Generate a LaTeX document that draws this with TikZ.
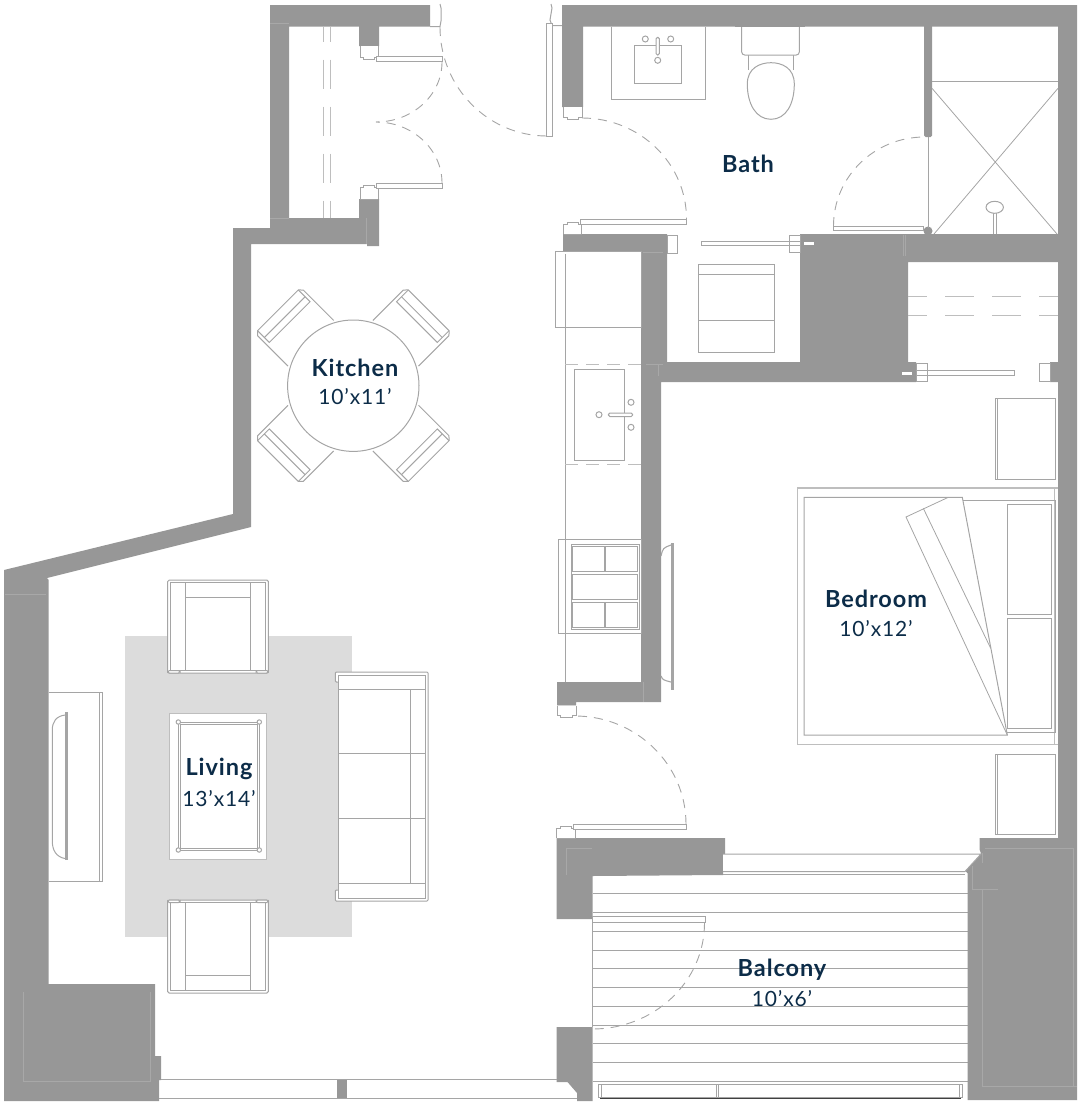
\documentclass[tikz,border=0pt]{standalone}
\usepackage{fontspec}
\setmainfont[LetterSpace=4]{Lato}
\definecolor{wallgray}{RGB}{151, 151, 151}
\definecolor{jointgray}{RGB}{168, 168, 168}
\definecolor{linegray}{RGB}{165, 165, 165}
\definecolor{softgray}{RGB}{190, 190, 190}
\definecolor{ruggray}{RGB}{220, 220, 220}
\definecolor{labelnavy}{RGB}{12, 44, 72}
\tikzset{
  wall/.style={fill=wallgray, draw=none},
  joint/.style={draw=jointgray, line width=0.5pt},
  fixture/.style={draw=linegray, line width=1pt},
  soft/.style={draw=softgray, line width=1.2pt},
  leaf/.style={draw=linegray, fill=white, line width=1pt},
  swing/.style={draw=linegray, line width=0.9pt, dash pattern=on 9pt off 7pt},
  hatch/.style={draw=softgray, line width=1pt, dash pattern=on 29pt off 18pt},
  roomname/.style={font=\fontsize{23.5}{26}\selectfont\bfseries, text=labelnavy, inner sep=0pt},
  roomsize/.style={font=\fontsize{21}{24}\selectfont, text=labelnavy, inner sep=0pt},
}
\begin{document}
\begin{tikzpicture}[x=1pt, y=-1pt]
  \useasboundingbox (0,0) rectangle (1077,1103);

  % Rug
  \fill[ruggray] (125,635.5) rectangle (352,937);

  % Balcony boards
  \foreach \yb in {893.7,912.4,931.2,950,968.7,987.4,1006.2,1025,1043.7,1062.4,1081.2}
    \draw[fixture] (592.5,\yb) -- (967.5,\yb);
  \draw[fixture] (592.5,919) -- (592.5,1027);

  % Walls
  \fill[wall] (270,5) -- (430,5) -- (430,26.5) -- (379,26.5) -- (379,46) -- (359,46) -- (359,26.5) -- (289,26.5) -- (289,218) -- (359,218) -- (359,199) -- (379,199) -- (379,246) -- (367,246) -- (367,244) -- (251,244) -- (251,527) -- (47,578) -- (48.7,580) -- (48.7,984) -- (155,984) -- (155,1056) -- (161,1056) -- (161,1080) -- (159,1080) -- (159,1101) -- (4,1101) -- (4,570) -- (233,514) -- (233,228) -- (270,228) -- cycle;
  \fill[wall] (562,5) -- (1077,5) -- (1077,1100) -- (967.5,1100) -- (967.5,873) -- (965,870.7) -- (981,853.3) -- (979.7,850) -- (979.7,838) -- (1058,838) -- (1058,382) -- (1050,382) -- (1050,362) -- (1058,362) -- (1058,26.5) -- (583,26.5) -- (583,107) -- (562,107) -- cycle;
  \fill[wall, rounded corners=1.5pt] (924,20) rectangle (932,137);
  \fill[wall] (563,234) -- (667,234) -- (667,362) -- (800,362) -- (800,234) -- (1058,234) -- (1058,262) -- (908,262) -- (908,362) -- (916,362) -- (916,382) -- (661,382) -- (661,702) -- (576,702) -- (576,705.5) -- (557,705.5) -- (557,682) -- (641,682) -- (641,254) -- (563,254) -- cycle;
  \fill[wall] (928,231) circle (4.5);
  \fill[wall] (556.5,838) -- (725,838) -- (725,855) -- (723,855) -- (723,875) -- (592.5,876) -- (592.5,919) -- (556.5,919) -- cycle;
  \fill[wall] (556.5,1027) -- (592.5,1027) -- (592.5,1101) -- (577,1101) -- (577,1093) -- (567.5,1082) -- (556.5,1082) -- cycle;

  % Joints in the walls
  \draw[joint] (23,992) -- (23,1081) -- (150,1081) -- (150,992);
  \draw[joint] (5,594.7) -- (46,594.7);
  \draw[joint] (982,889) -- (982,1086) -- (1077,1086);
  \draw[joint] (982,853) -- (982,863);
  \draw[joint] (985,848) -- (1073,848) -- (1073,1086);
  \draw[joint] (972.3,866) -- (972.3,889) -- (998,889);
  \draw[joint] (592,848.3) -- (566.7,848.3) -- (566.7,875);
  \draw[joint] (270,23) -- (289,23);
  \draw[joint] (270,218) -- (289,218);
  \draw[joint] (366,218) -- (366,244);
  \draw[joint] (646,364.5) -- (663,364.5) (658,364.5) -- (658,376);
  \draw[joint] (643,252.5) -- (663,252.5);
  \draw[joint] (643,682) -- (643,702);
  \draw[joint] (903,235) -- (903,256) (905.5,235) -- (905.5,256);

  % Windows
  \draw[leaf] (723,854) -- (981,854) -- (965,871.5) -- (723,871.5);
  \draw[fixture] (723,874) -- (965,874);
  \draw[leaf] (598,1084.3) rectangle (962,1097.3);
  \draw[fixture] (601,1084.3) -- (601,1097.3) (959,1084.3) -- (959,1097.3);
  \draw[leaf] (716.4,1084.3) rectangle (718.8,1097.3);
  \draw[black!75, line width=1pt] (600,1098.5) -- (960.5,1098.5);
  \draw[fixture] (161,1079.5) -- (556.5,1079.5);
  \draw[fixture] (159,1098.5) -- (577,1098.5);
  \fill[wall] (337,1079.5) rectangle (347,1098);

  % Jambs
  \draw[fixture] (430,26.5) -- (440,26.5) -- (441,21) -- (441,8) -- (440,4);
  \draw[fixture] (551,4) -- (552,8) -- (550,20) -- (552,25.5) -- (562,25.5);
  \foreach \xj/\yj/\wj/\hj in {360/46/18/12, 360/199/18/-12, 563.5/107/18.5/11, 563.5/234/18.2/-10.5, 557/705.5/19/11, 556.5/838/19/-10.3} {
    \begin{scope}[shift={(\xj,\yj)}, xscale=\wj, yscale=\hj]
      \draw[leaf] (0,0) -- (0,0.95) -- (0.2,0.95) -- (0.2,1.12) -- (0.8,1.12) -- (0.8,0.95) -- (1,0.95) -- (1,0);
    \end{scope}
  }
  \foreach \xj/\yj/\xk/\yk in {667.3/235.7/677.3/253.3, 1039/363/1050/381}
    \draw[leaf] (\xj,\yj) rectangle (\xk,\yk);

  % Door leaves and their swings
  \draw[leaf] (376,56) rectangle (442.5,61.7);
  \draw[leaf] (376,183.3) rectangle (442.5,188.5);
  \draw[swing] (442,62) arc[start angle=0, end angle=-90, x radius=66, y radius=-60];
  \draw[swing] (442,183) arc[start angle=0, end angle=90, x radius=66, y radius=-61];
  \draw[leaf] (546.7,23.3) rectangle (552.7,136.7);
  \draw[swing] (440,27) arc[start angle=180, end angle=270, x radius=107, y radius=-109];
  \draw[leaf] (580,219.3) rectangle (686.7,224.3);
  \draw[swing] (582,118) arc[start angle=90, end angle=0, x radius=104.5, y radius=-101];
  \draw[leaf] (833.3,226) rectangle (923.3,230.7);
  \draw[swing] (833.5,226) arc[start angle=180, end angle=90, x radius=91, y radius=-89];
  \draw[fixture] (928.7,137) -- (928.7,228);
  \draw[leaf] (573.2,824) rectangle (686.6,829);
  \draw[swing] (686,824) arc[start angle=0, end angle=90, x radius=111, y radius=-108];
  \draw[leaf] (592.5,916.7) rectangle (705.4,922.7);
  \draw[swing] (704.5,923) arc[start angle=0, end angle=-90, x radius=112, y radius=-106];

  % Pocket doors
  \draw[leaf] (701.7,241.7) rectangle (800.7,245.7);
  \draw[leaf] (789.3,235.7) rectangle (800.7,252.7);
  \draw[fixture] (789.3,241.7) -- (800.7,241.7) (789.3,245.7) -- (800.7,245.7);
  \fill[white] (804.3,242.3) rectangle (814,245);
  \draw[leaf] (916,370.7) rectangle (1014.3,375);
  \draw[leaf] (916,363.3) rectangle (927.3,381);
  \draw[fixture] (916,370.7) -- (927.3,370.7) (916,375) -- (927.3,375);
  \fill[white] (902.3,371.7) rectangle (911.7,374.7);

  % Hatched headers
  \draw[hatch, dash phase=14pt] (323.3,26.5) -- (323.3,218);
  \draw[hatch, dash phase=14pt] (330.7,26.5) -- (330.7,218);
  \draw[hatch, dash phase=10pt] (908,296.7) -- (1058,296.7);
  \draw[hatch, dash phase=10pt] (908,315.7) -- (1058,315.7);

  % Bath
  \draw[fixture] (611,26.5) -- (611,99.3) -- (705.3,99.3) -- (705.3,26.5);
  \draw[fixture] (634.3,45.3) rectangle (681.7,83.3);
  \draw[leaf, rounded corners=1.5pt] (656,37.3) rectangle (659.4,55);
  \foreach \xs/\ys in {645.3/39, 670.7/39, 657.7/60.3}
    \draw[fixture] (\xs,\ys) circle (3);
  \draw[fixture] (748,55) -- (748,70) (793.3,55) -- (793.3,70);
  \draw[leaf, rounded corners=3pt] (741.7,20) rectangle (799.3,55);
  \fill[wall] (735,5) rectangle (805,26.5);
  \draw[leaf] (747.3,84) .. controls (747.3,68) and (760,62.7) .. (771,62.7) .. controls (782,62.7) and (794.3,68) .. (794.3,84) .. controls (794.3,104) and (786,119.3) .. (771,119.3) .. controls (756,119.3) and (747.3,104) .. (747.3,84) -- cycle;
  \draw[fixture] (698.3,264.3) rectangle (774.3,352.3);
  \draw[fixture] (698.3,274) -- (774.3,274) (698.3,320.3) -- (774.3,320.3);

  % Shower
  \draw[fixture] (932,81.7) -- (1058,81.7);
  \draw[fixture, line width=0.8pt] (932,88.3) -- (1057,234) (1058,88.3) -- (934,234);
  \draw[fixture] (993.3,212) -- (993.3,234) (996,212) -- (996,234);
  \draw[leaf] (994.7,207.3) ellipse (8.7 and 6);

  % Kitchen counter
  \draw[leaf] (555.3,251.7) rectangle (641,327);
  \draw[fixture] (565,254) -- (565,682);
  \draw[hatch, dash pattern=on 13pt off 8pt] (565,364.3) -- (641,364.3);
  \draw[hatch, dash pattern=on 13pt off 8pt] (565,464.7) -- (641,464.7);
  \draw[fixture] (574,369.3) rectangle (624.3,460.3);
  \draw[leaf, rounded corners=1.5pt] (608.3,413) rectangle (632.7,416.5);
  \foreach \xs/\ys in {599/414.7, 631/402.3, 631/427.3}
    \draw[fixture] (\xs,\ys) circle (3);

  % Range
  \draw[fixture] (558.3,539.3) rectangle (641,633.7);
  \draw[fixture] (571,544) rectangle (639,629.3);
  \foreach \xa/\ya/\xb/\yb in {572.7/546/604/571, 605.7/546/637/571, 572.7/574.3/637/599, 572.7/602.7/604/627.3, 605.7/602.7/637/627.3}
    \draw[fixture] (\xa,\ya) rectangle (\xb,\yb);

  % Bedroom television
  \draw[fixture, line width=1.1pt] (671,682) .. controls (663,680) .. (661,676);
  \draw[fixture, line width=1.1pt] (661,556) .. controls (663,548) .. (671,545);
  \fill[linegray] (670.7,542.7) rectangle (674.3,690);

  % Kitchen table
  \foreach \ang in {45,135,225,315} {
    \begin{scope}[shift={(353.3,385.7)}, rotate=\ang]
      \draw[fixture] (60,32.3) -- (103,32.3) -- (106.6,28.8) -- (106.6,-28.8) -- (103,-32.3) -- (60,-32.3);
      \draw[fixture] (106.6,28.8) -- (90,28.8) -- (90,-28.8) -- (106.6,-28.8);
      \draw[fixture] (97,28.8) -- (97,-28.8);
    \end{scope}
  }
  \draw[leaf] (353.3,385.7) circle (65.7);

  % Living room television
  \draw[fixture] (48.7,692) -- (102.7,692) -- (102.7,881) -- (48.7,881);
  \draw[fixture] (99.3,692) -- (99.3,881);
  \draw[fixture] (65.3,715) .. controls (56,716) and (52.3,722) .. (52.3,730) -- (52.3,841) .. controls (52.3,850) and (56,857) .. (65.3,858.6);
  \fill[linegray] (65.3,711.7) rectangle (68.3,860.3);

  % Armchairs
  \foreach \yc/\ys in {626.5/1, 946.5/-1} {
    \begin{scope}[shift={(218,\yc)}, yscale=\ys]
      \draw[leaf, rounded corners=1.5pt] (-50.3,-46.5) rectangle (50.3,46.5);
      \draw[fixture] (-47.8,-44) rectangle (47.8,44);
      \draw[fixture] (-32.7,-44) -- (-32.7,44) (32.7,-44) -- (32.7,44);
      \draw[fixture] (-32.7,-29) -- (32.7,-29);
      \draw[leaf, rounded corners=1.5pt] (-50.3,44) rectangle (-38,46.5);
      \draw[leaf, rounded corners=1.5pt] (38,44) rectangle (50.3,46.5);
    \end{scope}
  }

  % Coffee table
  \draw[draw=softgray, fill=white, line width=1pt] (169.3,713) rectangle (266.7,859.7);
  \draw[fixture] (178.3,722) rectangle (259.3,850);
  \draw[fixture] (180,724) rectangle (257.3,848);
  \foreach \xt/\yt in {178.3/722, 259.3/722, 178.3/850, 259.3/850}
    \draw[leaf] (\xt,\yt) circle (2.2);

  % Sofa
  \draw[leaf, rounded corners=1pt] (338.7,682) -- (335.3,682) -- (335.3,672) -- (428,672) -- (428,901) -- (335.3,901) -- (335.3,890) -- (338.7,890);
  \fill[white] (338.7,675) rectangle (425,898);
  \draw[fixture] (338.7,675) rectangle (425,898);
  \draw[fixture] (338.7,689.2) -- (425,689.2) (338.7,883.6) -- (425,883.6);
  \draw[fixture] (410.7,689.2) -- (410.7,883.6);
  \draw[fixture] (338.7,753.8) -- (425,753.8) (338.7,818.7) -- (425,818.7);

  % Bedroom
  \foreach \ytop/\ybot in {398.3/479, 754/834.3} {
    \draw[fixture] (995,\ytop) rectangle (1055,\ybot);
    \draw[fixture] (997.3,\ytop) -- (997.3,\ybot);
  }
  \draw[soft] (1058,488) -- (797.3,488) -- (797.3,744.7) -- (1058,744.7);
  \draw[soft] (1054.3,488) -- (1054.3,744.7);
  \draw[fixture] (963,500.7) -- (1055,500.7) -- (1055,732.3) -- (1007.3,732.3);
  \draw[fixture] (1007.3,504) rectangle (1051.7,614);
  \draw[fixture] (1007.3,618.7) rectangle (1051.7,728.7);
  \draw[fixture] (962.3,497.3) -- (804,497.3) -- (804,735) -- (1007.3,735) -- cycle;
  \draw[fixture, line width=0.8pt] (948.3,497.3) -- (906,517) -- (1007.3,735);
  \draw[fixture, line width=0.8pt] (923.3,508.3) -- (990.7,648.3);

  % Room labels
  \node[roomname] (bath) at (748,164) {Bath};
  \node[roomname] (kitchen) at (355,368) {Kitchen};
  \node[roomsize] (kitchensize) at (355,397) {10’x11’};
  \node[roomname] (living) at (219,769) {Living};
  \node[roomsize] (livingsize) at (219,799) {13’x14’};
  \node[roomname] (bedroom) at (876,599) {Bedroom};
  \node[roomsize] (bedroomsize) at (876,629) {10’x12’};
  \node[roomname] (balcony) at (782,970) {Balcony};
  \node[roomsize] (balconysize) at (782,999) {10’x6’};
\end{tikzpicture}
\end{document}
